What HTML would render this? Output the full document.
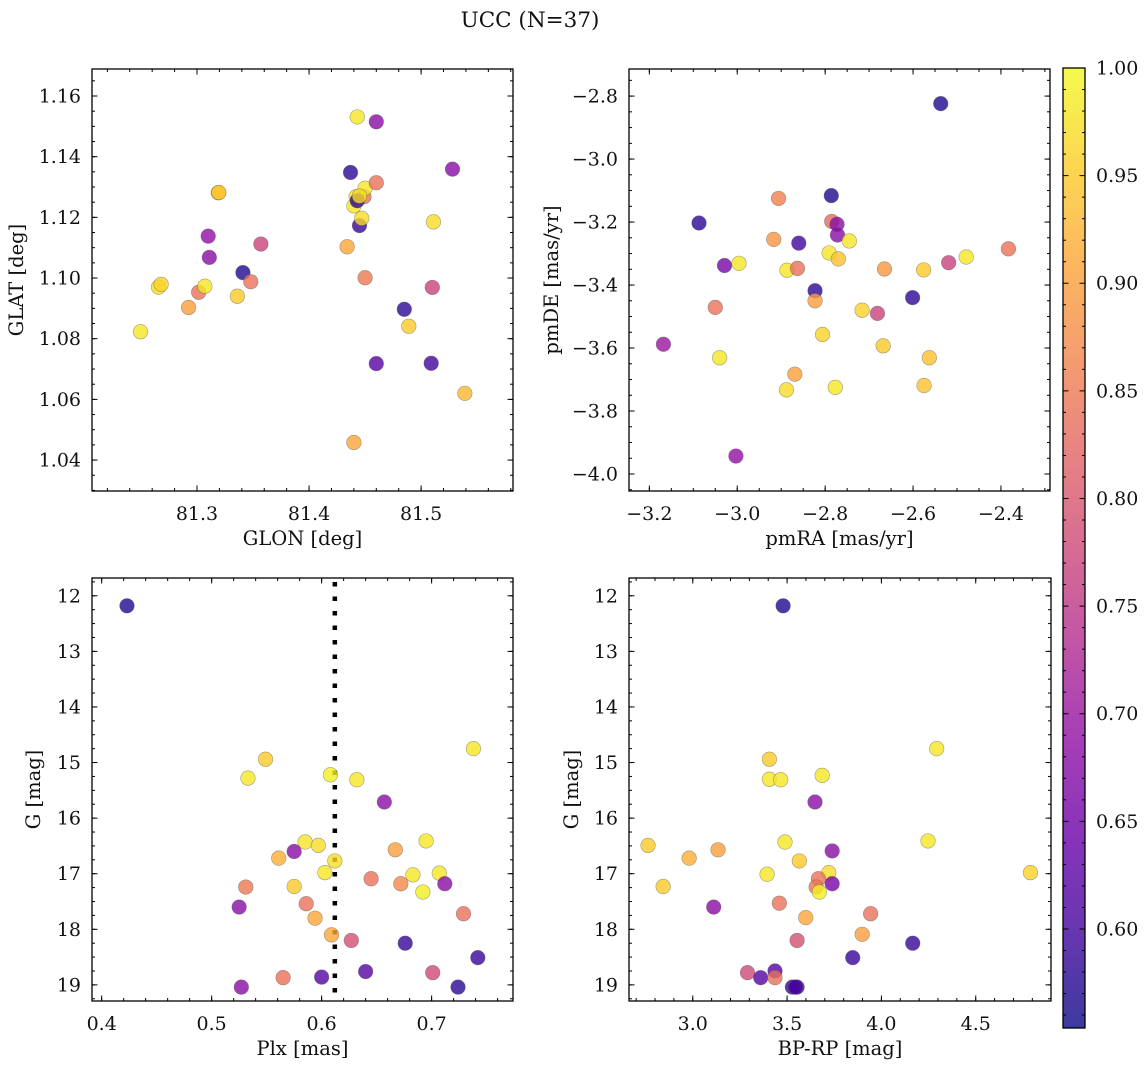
<!DOCTYPE html>
<html><head><meta charset="utf-8"><style>
body{margin:0;background:#fff;}
svg{display:block;font-family:"DejaVu Serif","Liberation Serif",serif;}
</style></head><body>
<svg id="fig" width="1148" height="1068" xmlns="http://www.w3.org/2000/svg">
<text x="530" y="27" font-size="21.5" text-anchor="middle" fill="#111">UCC (N=37)</text>
</svg>
<script>
// Panel 1: GLON vs GLAT
const glon = [81.2496,81.2657,81.268,81.2925,81.3015,81.307,81.310,81.311,81.319,81.3195,81.336,81.341,81.348,81.357,81.434,81.437,81.443,81.440,81.442,81.449,81.450,81.445,81.447,81.460,81.460,81.450,81.440,81.460,81.485,81.489,81.511,81.510,81.509,81.528,81.539,81.443,81.445];
const glat = [1.0823,1.0970,1.0979,1.0903,1.0953,1.0973,1.1138,1.1068,1.1281,1.1282,1.0940,1.1018,1.0988,1.1112,1.1103,1.1348,1.1531,1.1238,1.1268,1.1268,1.1296,1.1173,1.1197,1.1314,1.1515,1.1001,1.0458,1.0718,1.0897,1.0841,1.1185,1.0969,1.0719,1.1359,1.0620,1.1255,1.1270];
const c1 = [0.98,0.97,0.96,0.90,0.84,0.98,0.69,0.68,0.95,0.94,0.95,0.57,0.84,0.77,0.91,0.58,0.98,0.98,0.97,0.84,0.98,0.59,0.97,0.84,0.68,0.85,0.91,0.62,0.58,0.95,0.97,0.77,0.60,0.68,0.93,0.58,0.97];
// Panel 2: pmRA vs pmDE
const pmra = [-3.087,-3.029,-2.996,-3.050,-3.168,-3.040,-3.003,-2.906,-2.917,-2.887,-2.863,-2.860,-2.888,-2.869,-2.823,-2.823,-2.806,-2.786,-2.785,-2.773,-2.772,-2.791,-2.770,-2.745,-2.777,-2.716,-2.681,-2.665,-2.668,-2.601,-2.576,-2.563,-2.575,-2.537,-2.519,-2.479,-2.383];
const pmde = [-3.203,-3.338,-3.331,-3.471,-3.588,-3.631,-3.943,-3.125,-3.255,-3.353,-3.347,-3.267,-3.733,-3.683,-3.418,-3.450,-3.557,-3.116,-3.198,-3.207,-3.241,-3.298,-3.317,-3.260,-3.725,-3.480,-3.490,-3.349,-3.593,-3.440,-3.352,-3.631,-3.719,-2.824,-3.329,-3.311,-3.285];
const c2 = [0.58,0.66,0.98,0.84,0.70,0.98,0.69,0.86,0.89,0.98,0.84,0.60,0.97,0.90,0.58,0.90,0.96,0.57,0.83,0.68,0.68,0.98,0.94,0.98,0.98,0.96,0.77,0.89,0.95,0.58,0.95,0.94,0.94,0.57,0.77,0.98,0.84];
// Panel 3: Plx vs G
const plx = [0.423,0.533,0.549,0.608,0.632,0.738,0.657,0.585,0.597,0.575,0.561,0.612,0.603,0.667,0.695,0.645,0.683,0.707,0.672,0.712,0.692,0.531,0.575,0.525,0.586,0.594,0.609,0.627,0.676,0.729,0.742,0.640,0.701,0.565,0.600,0.527,0.724];
const gmag3 = [12.18,15.28,14.94,15.22,15.31,14.75,15.71,16.43,16.49,16.60,16.72,16.77,16.98,16.57,16.41,17.09,17.02,16.99,17.18,17.18,17.33,17.24,17.23,17.60,17.54,17.80,18.10,18.20,18.25,17.72,18.51,18.76,18.78,18.87,18.86,19.04,19.04];
const c3 = [0.57,0.98,0.95,0.99,0.98,0.98,0.68,0.98,0.97,0.68,0.92,0.97,0.98,0.90,0.98,0.84,0.98,0.98,0.87,0.68,0.99,0.85,0.95,0.68,0.84,0.91,0.91,0.79,0.59,0.84,0.59,0.62,0.78,0.84,0.62,0.68,0.58];
// Panel 4: BP-RP vs G
const bprp = [3.479,2.763,2.843,2.981,3.134,3.111,3.406,3.406,3.466,3.686,4.293,3.648,3.489,3.565,3.394,3.739,3.721,3.666,3.654,3.739,3.671,3.459,3.599,3.553,3.943,3.898,4.166,3.848,4.247,4.790,3.290,3.360,3.436,3.436,3.528,3.553,3.545];
const gmag4 = [12.18,16.49,17.23,16.72,16.57,17.60,14.94,15.30,15.31,15.23,14.75,15.71,16.43,16.77,17.01,16.59,16.98,17.09,17.24,17.18,17.33,17.53,17.79,18.20,17.72,18.09,18.25,18.51,16.41,16.98,18.78,18.87,18.75,18.87,19.04,19.04,19.04];
const c4 = [0.57,0.95,0.95,0.92,0.90,0.68,0.95,0.98,0.98,0.98,0.98,0.68,0.98,0.95,0.98,0.68,0.97,0.84,0.85,0.66,0.99,0.84,0.91,0.79,0.84,0.90,0.59,0.59,0.98,0.96,0.78,0.62,0.62,0.84,0.59,0.62,0.60];
const cbTicks = [0.60,0.65,0.70,0.75,0.80,0.85,0.90,0.95,1.00];
const VMIN = 0.554, VMAX = 1.0;

const NS = "http://www.w3.org/2000/svg";
const svg = document.getElementById('fig');
function mk(tag, attrs, parent){const e=document.createElementNS(NS,tag);for(const k in attrs)e.setAttribute(k,attrs[k]);(parent||svg).appendChild(e);return e;}
const stops=[[0,[13,8,135]],[0.1,[65,4,157]],[0.2,[106,0,168]],[0.3,[143,13,164]],[0.4,[177,42,144]],[0.5,[204,71,120]],[0.6,[225,100,98]],[0.7,[242,132,75]],[0.8,[252,166,54]],[0.9,[252,206,37]],[1,[240,249,33]]];
function plasma(t){t=Math.max(0,Math.min(1,t));for(let i=1;i<stops.length;i++){if(t<=stops[i][0]){const a=stops[i-1],b=stops[i];const f=(t-a[0])/(b[0]-a[0]);const c=a[1].map((v,j)=>Math.round(v+(b[1][j]-v)*f));return `rgb(${c[0]},${c[1]},${c[2]})`;}}return 'rgb(240,249,33)';}
function cmap(v){return plasma((v-VMIN)/(VMAX-VMIN));}

function fmt(v,d){return (v<0?'\u2212':'')+Math.abs(v).toFixed(d);}
const TFS=19, LFS=19.5;

function panel(o){
  const g=mk('g',{});
  
  
  const sx=v=>o.x0+(v-o.xmin)/(o.xmax-o.xmin)*(o.x1-o.x0);
  const sy=o.yinv?(v=>o.y0+(v-o.ymin)/(o.ymax-o.ymin)*(o.y1-o.y0)):(v=>o.y1-(v-o.ymin)/(o.ymax-o.ymin)*(o.y1-o.y0));
  const eps=1e-9;
  function ticksX(step,len,major){
    const s=Math.ceil((o.xmin-eps)/step);
    for(let k=s;k*step<=o.xmax+eps;k++){const v=k*step,px=sx(v);
      mk('line',{x1:px,x2:px,y1:o.y1,y2:o.y1-len,stroke:'#000','stroke-width':1},g);
      mk('line',{x1:px,x2:px,y1:o.y0,y2:o.y0+len,stroke:'#000','stroke-width':1},g);
      if(major){const t=mk('text',{x:px,y:o.y1+29,'font-size':TFS,'text-anchor':'middle',fill:'#111'},g);t.textContent=fmt(v,o.xd);
        
        }
    }
  }
  function ticksY(step,len,major){
    const s=Math.ceil((Math.min(o.ymin,o.ymax)-eps)/step);
    const hi=Math.max(o.ymin,o.ymax);
    for(let k=s;k*step<=hi+eps;k++){const v=k*step,py=sy(v);
      mk('line',{x1:o.x0,x2:o.x0+len,y1:py,y2:py,stroke:'#000','stroke-width':1},g);
      mk('line',{x1:o.x1,x2:o.x1-len,y1:py,y2:py,stroke:'#000','stroke-width':1},g);
      if(major){const t=mk('text',{x:o.x0-11,y:py+6.5,'font-size':TFS,'text-anchor':'end',fill:'#111'},g);t.textContent=fmt(v,o.yd);
        
        }
    }
  }
  ticksX(o.xmaj,5.5,true);ticksX(o.xmin_,3,false);
  ticksY(o.ymaj,5.5,true);ticksY(o.ymin_,3,false);
  if(o.vline!==undefined){const l=mk('line',{x1:sx(o.vline),x2:sx(o.vline),y1:o.y0+4,y2:o.y1,stroke:'#000','stroke-width':4.5,'stroke-dasharray':'4.5 10'},g);
    
    }
  for(let i=0;i<o.xs.length;i++){
    const c=mk('circle',{cx:sx(o.xs[i]),cy:sy(o.ys[i]),r:7.3,fill:cmap(o.cs[i]),'fill-opacity':0.8,stroke:'rgba(90,90,90,0.55)','stroke-width':0.6},g);
    
    
  }
  const fr=mk('rect',{x:o.x0,y:o.y0,width:o.x1-o.x0,height:o.y1-o.y0,fill:'none',stroke:'#000','stroke-width':1.3},g);
  
  
  const xl=mk('text',{x:(o.x0+o.x1)/2,y:o.y1+54,'font-size':LFS,'text-anchor':'middle',fill:'#111'},g);xl.textContent=o.xlabel;
  
  
  const yx=o.ylx, yy=(o.y0+o.y1)/2;
  const yl=mk('text',{x:yx,y:yy,'font-size':LFS,'text-anchor':'middle',fill:'#111',transform:`rotate(-90 ${yx} ${yy})`},g);yl.textContent=o.ylabel;
  
  
}

panel({name:'glon-glat-panel',x0:92,x1:513,y0:69,y1:491,xmin:81.2063,xmax:81.582,ymin:1.0298,ymax:1.1689,xmaj:0.1,xmin_:0.02,ymaj:0.02,ymin_:0.005,xd:1,yd:2,xs:glon,ys:glat,cs:c1,xlabel:'GLON [deg]',ylabel:'GLAT [deg]',ylx:23});
panel({name:'pm-panel',x0:629,x1:1050,y0:69,y1:491,xmin:-3.2463,xmax:-2.2884,ymin:-4.054,ymax:-2.714,xmaj:0.2,xmin_:0.05,ymaj:0.2,ymin_:0.05,xd:1,yd:1,xs:pmra,ys:pmde,cs:c2,xlabel:'pmRA [mas/yr]',ylabel:'pmDE [mas/yr]',ylx:558});
panel({name:'plx-g-panel',x0:92,x1:513,y0:578,y1:1001,xmin:0.3912,xmax:0.774,ymin:11.68,ymax:19.29,yinv:true,xmaj:0.1,xmin_:0.02,ymaj:1,ymin_:0.25,xd:1,yd:0,xs:plx,ys:gmag3,cs:c3,xlabel:'Plx [mas]',ylabel:'G [mag]',ylx:40,vline:0.612});
panel({name:'cmd-panel',x0:629,x1:1051,y0:578,y1:1001,xmin:2.662,xmax:4.899,ymin:11.68,ymax:19.29,yinv:true,xmaj:0.5,xmin_:0.1,ymaj:1,ymin_:0.25,xd:1,yd:0,xs:bprp,ys:gmag4,cs:c4,xlabel:'BP-RP [mag]',ylabel:'G [mag]',ylx:578});

// colorbar
const cb=mk('g',{});


const defs=mk('defs',{},cb);
const lg=mk('linearGradient',{id:'cbg',x1:0,y1:1,x2:0,y2:0},defs);
for(let i=0;i<=20;i++){const t=i/20;mk('stop',{offset:t,'stop-color':plasma(t),'stop-opacity':0.8},lg);}
const CX0=1063,CX1=1085,CY0=68,CY1=1028;
mk('rect',{x:CX0,y:CY0,width:CX1-CX0,height:CY1-CY0,fill:'url(#cbg)'},cb);
const cy=v=>CY1-(v-VMIN)/(VMAX-VMIN)*(CY1-CY0);
for(let k=Math.ceil(VMIN/0.01);k<=100;k++){const v=k/100,py=cy(v);const major=(k%5===0);
  mk('line',{x1:CX1,x2:CX1-(major?5.5:3),y1:py,y2:py,stroke:'#000','stroke-width':1},cb);
  mk('line',{x1:CX0,x2:CX0+(major?5.5:3),y1:py,y2:py,stroke:'#000','stroke-width':1},cb);}
for(const v of cbTicks){const t=mk('text',{x:CX1+11,y:cy(v)+6.5,'font-size':TFS,fill:'#111'},cb);t.textContent=v.toFixed(2);
  
  }
mk('rect',{x:CX0,y:CY0,width:CX1-CX0,height:CY1-CY0,fill:'none',stroke:'#000','stroke-width':1.3},cb);
</script>
</body></html>
